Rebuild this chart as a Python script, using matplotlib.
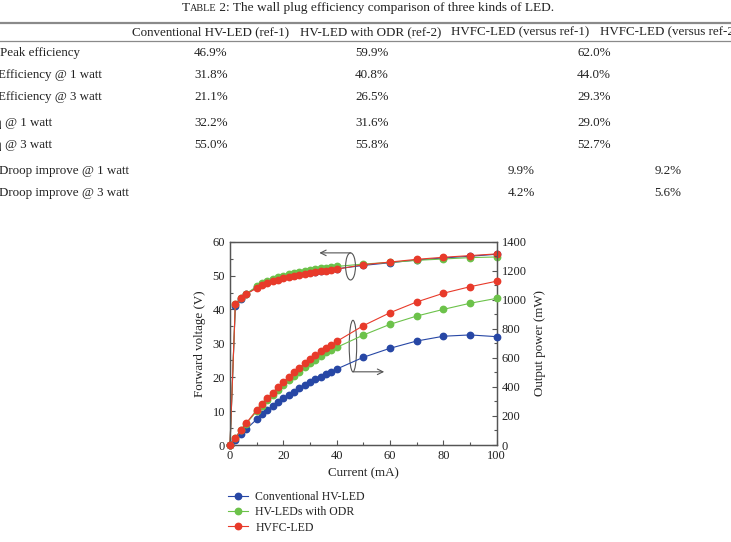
import matplotlib
matplotlib.use("Agg")
import matplotlib.pyplot as plt
from matplotlib.patches import Ellipse
from matplotlib.lines import Line2D
from matplotlib.ticker import MultipleLocator

plt.rcParams['font.family'] = ['Liberation Serif', 'DejaVu Serif']

# ---------------- data ----------------
current = [0, 2, 4, 6, 10, 12, 14, 16, 18, 20, 22, 24, 26, 28, 30, 32, 34, 36, 38, 40,
           50, 60, 70, 80, 90, 100]

volt_conv = [0, 41.0, 43.2, 44.5, 46.5, 47.4, 48.1, 48.6, 49.1, 49.5, 49.9, 50.2, 50.5, 50.8,
             51.0, 51.2, 51.4, 51.6, 51.8, 52.0, 53.0, 53.8, 54.6, 55.2, 55.7, 56.3]
volt_odr = [0, 41.5, 43.3, 44.6, 46.8, 47.8, 48.5, 49.1, 49.6, 50.0, 50.4, 50.7, 51.0, 51.3,
            51.6, 51.8, 52.1, 52.3, 52.5, 52.7, 53.4, 53.9, 54.5, 54.9, 55.3, 55.5]
volt_hvfc = [0, 41.7, 43.3, 44.5, 46.3, 47.2, 47.8, 48.3, 48.8, 49.2, 49.6, 49.9, 50.2, 50.5,
             50.8, 51.0, 51.3, 51.5, 51.7, 51.9, 53.2, 54.0, 54.8, 55.4, 55.9, 56.4]

pow_conv = [0, 34, 76, 108, 177, 211, 241, 269, 296, 321, 344, 367, 390, 411, 431, 452, 470,
            488, 505, 523, 604, 666, 716, 749, 758, 746]
pow_odr = [0, 45, 100, 145, 232, 270, 307, 343, 378, 412, 446, 477, 506, 535, 563, 588, 614,
           638, 655, 672, 757, 831, 888, 934, 976, 1010]
pow_hvfc = [0, 46, 103, 149, 240, 282, 321, 360, 397, 434, 470, 500, 532, 562, 592, 617, 645,
            670, 688, 713, 822, 911, 985, 1045, 1090, 1128]

series_labels = ["Conventional HV-LED", "HV-LEDs with ODR", "HVFC-LED"]

table_title_rest = " 2: The wall plug efficiency comparison of three kinds of LED."
table_headers = ["Conventional HV-LED (ref-1)", "HV-LED with ODR (ref-2)",
                 "HVFC-LED (versus ref-1)", "HVFC-LED (versus ref-2)"]
row_labels = ["Peak efficiency", "Efficiency @ 1 watt", "Efficiency @ 3 watt",
              "η @ 1 watt", "η @ 3 watt", "Droop improve @ 1 watt", "Droop improve @ 3 watt"]
row_values = [["46.9%", "59.9%", "62.0%"],
              ["31.8%", "40.8%", "44.0%"],
              ["21.1%", "26.5%", "29.3%"],
              ["32.2%", "31.6%", "29.0%"],
              ["55.0%", "55.8%", "52.7%"],
              ["9.9%", "9.2%"],
              ["4.2%", "5.6%"]]

# ---------------- figure ----------------
W, H = 731, 542
fig = plt.figure(figsize=(W / 100, H / 100), dpi=100)

def fx(px):
    return px / W

def fy(py):
    return 1 - py / H

tc = '#222222'
# ---- table title with small caps ----
renderer = fig.canvas.get_renderer()
pieces = [("T", 9.6), ("ABLE", 7.4), (table_title_rest, 9.6)]
arts = []
for s, fs_ in pieces:
    t = fig.text(0, 0, s, fontsize=fs_, color=tc, va='baseline')
    arts.append(t)
widths = [a.get_window_extent(renderer).width for a in arts]
x0 = 368 - sum(widths) / 2
for a, w in zip(arts, widths):
    a.set_position((fx(x0), fy(11)))
    x0 += w

fig.add_artist(Line2D([0, 1], [fy(22.5), fy(22.5)], transform=fig.transFigure,
                      color='#8a8a8a', lw=1.6))
fig.add_artist(Line2D([0, 1], [fy(41), fy(41)], transform=fig.transFigure,
                      color='#8a8a8a', lw=0.9))

tfs = 9.4
col_centers = [211, 371, 520, 669]
for h, cx in zip(table_headers, col_centers):
    fig.text(fx(cx), fy(32.5), h, fontsize=tfs, color=tc, ha='center', va='center')

row_y = [53, 75, 97, 123, 145, 171, 193]
row_x = [0, -2, -2, -5, -5, -1, -1]
for lab, ry, rx in zip(row_labels, row_y, row_x):
    fig.text(fx(rx), fy(ry), lab, fontsize=tfs, color=tc, ha='left', va='center')
for vals, ry in zip(row_values, row_y):
    if len(vals) == 3:
        xs = [211, 372, 594]
    else:
        xs = [521, 668]
    for v, cx in zip(vals, xs):
        fig.text(fx(cx), fy(ry), v, fontsize=tfs, color=tc, ha='center', va='center')

# ---- chart ----
ax = fig.add_axes([fx(230), fy(445), fx(496.7) - fx(230), fy(241.7) - fy(445)])
ax2 = ax.twinx()

colors = ['#2747a5', '#6cc24a', '#e83a2a']
lw = 0.8
ms = 4.6
for v, c in zip([volt_conv, volt_odr, volt_hvfc], colors):
    ax.plot(current, v, '-o', color=c, lw=lw, ms=ms, mec=c, clip_on=False, zorder=3)
handles = []
for p, c, lab in zip([pow_conv, pow_odr, pow_hvfc], colors, series_labels):
    h, = ax2.plot(current, p, '-o', color=c, lw=lw, ms=ms, mec=c, clip_on=False,
                  zorder=3, label=lab)
    handles.append(h)

ax.set_xlim(0, 100)
ax.set_ylim(0, 60)
ax2.set_ylim(0, 1400)

axis_col = '#555555'
for a in (ax, ax2):
    for sp in a.spines.values():
        sp.set_color(axis_col)
        sp.set_linewidth(0.9)

ax.xaxis.set_major_locator(MultipleLocator(20))
ax.xaxis.set_minor_locator(MultipleLocator(10))
ax.yaxis.set_major_locator(MultipleLocator(10))
ax.yaxis.set_minor_locator(MultipleLocator(5))
ax2.yaxis.set_major_locator(MultipleLocator(200))
ax2.yaxis.set_minor_locator(MultipleLocator(100))

fs = 9.0
lfs = 9.4
ax.tick_params(axis='both', which='both', direction='in', colors=axis_col,
               labelcolor=tc, labelsize=fs, top=False, right=False)
ax.tick_params(which='major', length=3.5, width=0.8)
ax.tick_params(which='minor', length=2, width=0.8)
ax2.tick_params(axis='y', which='both', direction='in', colors=axis_col,
                labelcolor=tc, labelsize=fs)
ax2.tick_params(which='major', length=3.5, width=0.8)
ax2.tick_params(which='minor', length=2, width=0.8)

ax.set_xlabel("Current (mA)", fontsize=lfs, color=tc, labelpad=4)
ax.set_ylabel("Forward voltage (V)", fontsize=lfs, color=tc, labelpad=5)
ax2.set_ylabel("Output power (mW)", fontsize=lfs, color=tc, labelpad=5)

# annotations (ellipses + arrows)
ann_col = '#555555'
ax.add_patch(Ellipse((45.2, 52.7), 3.7, 8.0, fill=False, ec=ann_col, lw=0.8, zorder=5))
ax.add_patch(Ellipse((46.1, 29.2), 2.8, 15.2, fill=False, ec=ann_col, lw=0.8, zorder=5))
ax.annotate("", xy=(33.5, 56.7), xytext=(45.2, 56.7),
            arrowprops=dict(arrowstyle='->', color=ann_col, lw=0.8,
                            shrinkA=0, shrinkB=0, mutation_scale=10), zorder=5)
ax.annotate("", xy=(57.8, 21.6), xytext=(46.1, 21.6),
            arrowprops=dict(arrowstyle='->', color=ann_col, lw=0.8,
                            shrinkA=0, shrinkB=0, mutation_scale=10), zorder=5)

leg = fig.legend(handles=handles, loc='upper left', bbox_to_anchor=(fx(228), fy(491)),
                 frameon=False, fontsize=8.5, handlelength=1.7, handletextpad=0.6,
                 labelspacing=0.28, borderpad=0, borderaxespad=0, numpoints=1)
for t in leg.get_texts():
    t.set_color(tc)

fig.savefig("out.png", dpi=100)
